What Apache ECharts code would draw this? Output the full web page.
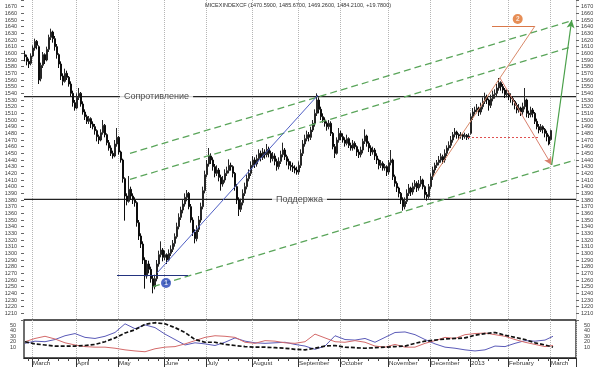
<!DOCTYPE html>
<html><head><meta charset="utf-8">
<script src="https://cdn.jsdelivr.net/npm/echarts@6/dist/echarts.min.js"></script>
<style>html,body{margin:0;padding:0;background:#fff}#c{width:600px;height:367px}</style>
</head><body><div id="c"></div>
<script>
const titleText = 'MICEXINDEXCF (1470.5900, 1485.6700, 1469.2600, 1484.2100, +19.7800)';
const slotCount = 276;
const monthStarts = [4, 26, 47, 70, 91, 114, 137, 158, 182, 203, 223, 242, 263];
const monthLabels = ['March','April','May','June','July','August','September','October','November','December','2013','February','March'];

const priceOpen = [
1598,1594,1588,1585,1596,1608,1618,1610,1562,1582,
1598,1590,1606,1624,1632,1622,1610,1598,1584,1566,
1558,1570,1564,1554,1540,1526,1518,1534,1540,1524,
1512,1505,1498,1502,1494,1490,1484,1475,1470,1481,
1492,1478,1466,1458,1450,1446,1464,1474,1452,1440,
1412,1386,1378,1396,1386,1380,1376,1346,1326,1314,
1290,1266,1284,1276,1262,1250,1262,1284,1298,1305,
1294,1298,1290,1300,1306,1315,1325,1340,1354,1365,
1374,1384,1390,1370,1350,1332,1322,1336,1350,1370,
1394,1418,1434,1446,1440,1430,1420,1425,1414,1404,
1410,1420,1424,1432,1430,1420,1400,1380,1366,1376,
1390,1400,1412,1420,1432,1440,1434,1442,1450,1444,
1452,1448,1456,1450,1442,1446,1438,1430,1438,1448,
1455,1445,1438,1432,1430,1428,1425,1422,1432,1450,
1464,1472,1478,1474,1485,1495,1510,1530,1516,1505,
1500,1495,1490,1495,1480,1460,1450,1470,1480,1475,
1470,1465,1472,1462,1458,1465,1460,1452,1448,1455,
1468,1476,1465,1458,1452,1455,1446,1440,1432,1435,
1428,1430,1422,1436,1440,1415,1405,1398,1390,1380,
1370,1378,1390,1398,1392,1400,1405,1398,1404,1410,
1400,1388,1385,1400,1415,1425,1432,1436,1440,1445,
1440,1450,1458,1462,1470,1478,1482,1478,1476,1478,
1475,1477,1474,1480,1505,1512,1515,1518,1512,1520,
1528,1535,1530,1522,1532,1538,1540,1548,1556,1550,
1545,1538,1540,1535,1532,1528,1522,1515,1518,1512,
1520,1530,1510,1508,1515,1510,1498,1490,1485,1490,
1486,1480,1475,1470.59];
const priceHigh = [
1604,1598,1592,1600,1612,1622,1620,1612,1586,1602,
1600,1610,1628,1637,1634,1626,1614,1600,1588,1570,
1577,1574,1566,1558,1544,1530,1540,1548,1542,1528,
1516,1508,1506,1504,1498,1494,1486,1478,1486,1500,
1494,1480,1470,1462,1454,1470,1488,1476,1454,1442,
1414,1390,1416,1400,1390,1384,1378,1350,1330,1318,
1294,1290,1289,1280,1266,1268,1290,1304,1318,1308,
1304,1300,1306,1312,1320,1330,1346,1360,1370,1380,
1390,1395,1392,1374,1354,1336,1342,1356,1376,1400,
1424,1440,1458,1450,1444,1434,1432,1428,1418,1416,
1426,1430,1441,1436,1432,1422,1404,1384,1382,1396,
1406,1418,1426,1438,1446,1444,1448,1456,1454,1458,
1456,1464,1460,1454,1452,1450,1442,1444,1454,1466,
1458,1448,1442,1438,1436,1432,1430,1438,1456,1470,
1478,1484,1482,1490,1500,1516,1540,1534,1520,1510,
1504,1498,1500,1498,1482,1464,1474,1488,1484,1480,
1474,1478,1474,1466,1470,1468,1462,1456,1460,1472,
1486,1478,1468,1462,1460,1458,1450,1442,1440,1438,
1434,1432,1440,1455,1442,1418,1408,1400,1392,1384,
1384,1396,1404,1400,1406,1410,1408,1410,1416,1412,
1402,1392,1404,1420,1430,1436,1440,1446,1450,1448,
1456,1462,1468,1476,1482,1488,1484,1480,1482,1480,
1481,1479,1480,1510,1518,1520,1524,1520,1526,1534,
1541,1538,1532,1538,1544,1546,1554,1563,1558,1554,
1548,1546,1544,1540,1536,1530,1526,1524,1520,1526,
1548,1532,1514,1520,1518,1512,1502,1494,1494,1492,
1488,1484,1478,1485.67];
const priceLow = [
1588,1582,1578,1582,1594,1604,1606,1554,1558,1578,
1584,1588,1602,1620,1616,1604,1592,1578,1560,1552,
1556,1560,1550,1536,1520,1514,1516,1530,1520,1508,
1500,1494,1494,1488,1486,1478,1468,1464,1468,1478,
1474,1462,1454,1446,1442,1444,1460,1448,1436,1406,
1349,1372,1376,1380,1374,1370,1340,1320,1308,1284,
1247,1262,1270,1256,1240,1246,1258,1280,1294,1288,
1290,1284,1288,1296,1302,1310,1322,1336,1350,1360,
1370,1378,1366,1346,1326,1315,1318,1332,1346,1366,
1390,1414,1430,1434,1424,1414,1416,1408,1394,1400,
1406,1416,1420,1424,1414,1394,1374,1356,1362,1372,
1386,1396,1408,1416,1428,1428,1430,1438,1438,1440,
1442,1444,1444,1436,1438,1432,1424,1426,1434,1444,
1440,1432,1426,1424,1422,1420,1418,1418,1428,1446,
1460,1468,1468,1470,1482,1490,1506,1510,1500,1496,
1490,1484,1486,1476,1456,1443,1448,1466,1470,1466,
1460,1462,1458,1454,1454,1456,1446,1443,1444,1450,
1464,1460,1452,1446,1448,1440,1434,1426,1428,1424,
1424,1416,1418,1432,1410,1400,1392,1384,1374,1364,
1366,1374,1386,1386,1388,1396,1392,1394,1400,1396,
1382,1379,1382,1396,1410,1420,1428,1432,1436,1434,
1436,1446,1454,1458,1466,1474,1472,1470,1472,1470,
1472,1470,1471,1478,1500,1508,1510,1506,1508,1516,
1524,1524,1514,1518,1528,1532,1536,1544,1544,1540,
1533,1534,1530,1526,1522,1516,1510,1511,1506,1508,
1516,1504,1503,1504,1504,1494,1486,1480,1482,1480,
1474,1468,1462,1469.26];
const priceClose = [
1595,1588,1584,1596,1608,1618,1612,1560,1582,1598,
1590,1606,1624,1632,1622,1610,1598,1584,1566,1558,
1570,1564,1554,1540,1526,1518,1534,1540,1524,1512,
1505,1498,1502,1494,1490,1484,1475,1470,1481,1492,
1478,1466,1458,1450,1446,1464,1474,1452,1440,1412,
1386,1378,1396,1386,1380,1376,1346,1326,1314,1290,
1266,1284,1276,1262,1250,1262,1284,1298,1305,1294,
1298,1290,1300,1306,1315,1325,1340,1354,1365,1374,
1384,1390,1370,1350,1332,1322,1336,1350,1370,1394,
1418,1434,1446,1440,1430,1420,1425,1414,1404,1410,
1420,1424,1432,1430,1420,1400,1380,1366,1376,1390,
1400,1412,1420,1432,1440,1434,1442,1450,1444,1452,
1448,1456,1450,1442,1446,1438,1430,1438,1448,1455,
1445,1438,1432,1430,1428,1425,1422,1432,1450,1464,
1472,1478,1474,1485,1495,1510,1530,1516,1505,1500,
1495,1490,1495,1480,1460,1450,1470,1480,1475,1470,
1465,1472,1462,1458,1465,1460,1452,1448,1455,1468,
1476,1465,1458,1452,1455,1446,1440,1432,1435,1428,
1430,1422,1436,1440,1415,1405,1398,1390,1380,1370,
1378,1390,1398,1392,1400,1405,1398,1404,1410,1400,
1388,1385,1400,1415,1425,1432,1436,1440,1445,1440,
1450,1458,1462,1470,1478,1482,1478,1476,1478,1475,
1477,1474,1476,1505,1512,1515,1518,1512,1520,1528,
1535,1530,1522,1532,1538,1540,1548,1556,1550,1545,
1538,1540,1535,1532,1528,1522,1515,1518,1512,1520,
1530,1510,1508,1515,1510,1498,1490,1485,1490,1486,
1480,1475,1464,1484.21];

// indicator panel (ADX system)
const adxIdx = [0,5,10,15,20,25,30,35,40,45,50,55,60,65,70,75,80,85,90,95,100,105,110,115,120,125,130,135,140,145,150,155,160,165,170,175,180,185,190,195,200,205,210,215,220,225,230,235,240,245,250,255,260,264];
const minusDI = [17,21,20,24,31,35,28,26,30,37,53,44,51,46,34,24,14,18,16,13,19,27,21,18,17,18,19,15,12,6,12,31,24,23,26,19,28,37,38,33,24,16,10,8,5,3,5,12,11,17,22,21,23,30];
const plusDI = [20,26,30,25,18,14,11,10,10,8,5,3,1.5,7,10,11,16,22,28,31,30,28,19,17,22,21,18,17,20,34,27,20,19,22,19,12,10,15,10,10,17,22,28,26,33,35,36,33,30,24,19,15,11,13];
const adxLine = [20,16,14,12,12,12,13,15,20,27,36,42,52,55,53,46,37,24,19,19,15,13,11,10,10,9,8,6,5,8,12,13,10,9,8,9,10,11,12,17,21,23,25,26,27,32,35,37,32,28,24,18,14,10];

// drawn annotations (bar index, price)
const resistanceLevel = 1535;
const supportLevel = 1381;
const channelUpper = [[52.5,1450],[273.5,1649]];
const channelMiddle = [[52.5,1411],[272.5,1609]];
const channelLower = [[64,1250],[275,1440]];
const blueTrend = [[66,1270.5],[146.5,1537.5]];
const blueBase = [[46,1267.5],[81.5,1267.5]];
const orangeTop = [[233.5,1641],[255,1641]];
const orangeTrend = [[204,1414.5],[255,1641]];
const redDotted = [[221.5,1474.5],[257.5,1474.5]];
const redArrow = [[237.5,1563],[263.35,1432.5]];
const greenArrow = [[263.35,1432.5],[273.35,1650]];
const levelTexts = [{name:'Сопротивление', value:[65.75,1535]}, {name:'Поддержка', value:[137.25,1381]}];
const marker1 = [70.5,1255.5];
const marker2 = [246.35,1651.5];

const categories = Array.from({length: slotCount}, (_, i) => String(i));
const monthSet = new Set(monthStarts);
const monthName = {};
monthStarts.forEach((m, k) => { monthName[m] = monthLabels[k]; });
const candleData = priceOpen.map((o, i) => [o, priceClose[i], priceLow[i], priceHigh[i]]);
const zipAdx = arr => adxIdx.map((x, i) => [x, arr[i]]);
const seg = (pts, style) => [{coord: pts[0]}, {coord: pts[1], lineStyle: style}];

const FONT = 'Liberation Sans, Arial, sans-serif';
const chart = echarts.init(document.getElementById('c'), null, {renderer: 'canvas'});
const dotted = {show: true, interval: (i) => monthSet.has(i), lineStyle: {color: '#b5b5b5', type: 'dotted', width: 1}};

chart.setOption({
  animation: false,
  backgroundColor: '#fff',
  textStyle: {fontFamily: FONT},
  title: {text: titleText, left: 205, top: 2, padding: 0, textStyle: {fontSize: 5.5, fontWeight: 'normal', color: '#333', fontFamily: FONT}},
  grid: [
    {left: 24, right: 24, top: 0, height: 320, show: false},
    {left: 24, right: 24, top: 320, height: 38, show: true, borderColor: '#222', borderWidth: 1.3, backgroundColor: 'transparent'}
  ],
  xAxis: [
    {gridIndex: 0, type: 'category', data: categories, boundaryGap: true, position: 'bottom',
     axisLine: {show: false, onZero: false}, axisTick: {show: false}, axisLabel: {show: false}, splitLine: dotted},
    {gridIndex: 0, type: 'value', min: -0.5, max: slotCount - 0.5, show: false, position: 'top',
     axisLine: {onZero: false}, splitLine: {show: false}},
    {gridIndex: 1, type: 'category', data: categories, boundaryGap: true, position: 'bottom',
     axisLine: {show: true, onZero: false, lineStyle: {color: '#222', width: 1}},
     axisTick: {show: true, interval: (i) => i % 5 === 2 && !monthSet.has(i), length: 3, lineStyle: {color: '#444'}},
     axisLabel: {show: true, interval: (i) => monthSet.has(i), formatter: (v) => monthName[Number(v)] || '',
       align: 'left', fontSize: 6.2, color: '#333', margin: 2, fontFamily: FONT},
     splitLine: dotted},
    {gridIndex: 1, type: 'category', data: categories, boundaryGap: true, position: 'bottom',
     axisLine: {show: false, onZero: false},
     axisTick: {show: true, interval: (i) => monthSet.has(i), length: 9, lineStyle: {color: '#333'}},
     axisLabel: {show: false}, splitLine: {show: false}},
    {gridIndex: 1, type: 'value', min: -0.5, max: slotCount - 0.5, show: false, position: 'top',
     axisLine: {onZero: false}, splitLine: {show: false}}
  ],
  yAxis: [
    {gridIndex: 0, type: 'value', min: 1200, max: 1680, interval: 10, position: 'left',
     axisLine: {show: false, onZero: false}, axisTick: {show: true, length: 3, lineStyle: {color: '#666'}},
     axisLabel: {fontSize: 5.5, color: '#3a3a3a', margin: 7, fontFamily: FONT, formatter: (v) => (v === 1200 || v === 1680) ? '' : String(v)},
     splitLine: {show: false}},
    {gridIndex: 0, type: 'value', min: 1200, max: 1680, interval: 10, position: 'right',
     axisLine: {show: true, onZero: false, lineStyle: {color: '#c8c8c8'}}, axisTick: {show: true, length: 3, lineStyle: {color: '#666'}},
     axisLabel: {fontSize: 5.5, color: '#3a3a3a', margin: 5, fontFamily: FONT, formatter: (v) => (v === 1200 || v === 1680) ? '' : String(v)},
     splitLine: {show: false}},
    {gridIndex: 1, type: 'value', min: -10, max: 60, interval: 10, position: 'left',
     axisLine: {show: false, onZero: false}, axisTick: {show: false},
     axisLabel: {fontSize: 5.5, color: '#3a3a3a', margin: 8, fontFamily: FONT, formatter: (v) => (v >= 10 && v <= 50) ? String(v) : ''},
     splitLine: {show: false}},
    {gridIndex: 1, type: 'value', min: -10, max: 60, interval: 10, position: 'right',
     axisLine: {show: false, onZero: false}, axisTick: {show: false},
     axisLabel: {fontSize: 5.5, color: '#3a3a3a', margin: 8, fontFamily: FONT, formatter: (v) => (v >= 10 && v <= 50) ? String(v) : ''},
     splitLine: {show: false}}
  ],
  series: [
    {type: 'candlestick', name: 'MICEX', xAxisIndex: 0, yAxisIndex: 0, data: candleData, barWidth: 1.9, silent: true, z: 3,
     itemStyle: {color: '#6a6a6a', color0: '#0d0d0d', borderColor: '#262626', borderColor0: '#0d0d0d', borderWidth: 1}},
    {type: 'line', name: 'resistance', xAxisIndex: 1, yAxisIndex: 0, silent: true, symbol: 'none', z: 2,
     data: [[-0.5, resistanceLevel], [slotCount - 0.5, resistanceLevel]],
     lineStyle: {color: '#222', width: 1.2},
     markLine: {silent: true, symbol: ['none', 'none'], label: {show: false}, animation: false,
       data: [
         seg(channelUpper, {color: '#5aa55a', width: 1.3, type: [7, 4]}),
         seg(channelMiddle, {color: '#5aa55a', width: 1.3, type: [7, 4]}),
         seg(channelLower, {color: '#5aa55a', width: 1.3, type: [7, 4]}),
         seg(blueTrend, {color: '#4f5fc4', width: 1, type: 'solid'}),
         seg(blueBase, {color: '#23337f', width: 1.2, type: 'solid'}),
         seg(orangeTop, {color: '#d9784a', width: 1, type: 'solid'}),
         seg(orangeTrend, {color: '#d98a6a', width: 1, type: 'solid'}),
         seg(redDotted, {color: '#e05050', width: 1, type: [2, 2]})
       ]}},
    {type: 'line', name: 'support', xAxisIndex: 1, yAxisIndex: 0, silent: true, symbol: 'none', z: 2,
     data: [[-0.5, supportLevel], [slotCount - 0.5, supportLevel]],
     lineStyle: {color: '#222', width: 1.2},
     markLine: {silent: true, symbol: ['none', 'arrow'], symbolSize: [6, 8], label: {show: false}, animation: false,
       data: [
         seg(redArrow, {color: '#d9806e', width: 1, type: 'solid'}),
         seg(greenArrow, {color: '#4aa04a', width: 1.2, type: 'solid'})
       ]}},
    {type: 'scatter', name: 'levels', xAxisIndex: 1, yAxisIndex: 0, silent: true, symbolSize: 1, z: 6,
     itemStyle: {color: 'rgba(0,0,0,0)'}, data: levelTexts,
     label: {show: true, position: 'inside', formatter: '{b}', backgroundColor: '#fff', padding: [1, 4], fontSize: 9, color: '#1a1a1a', fontFamily: FONT}},
    {type: 'scatter', name: 'marks', xAxisIndex: 1, yAxisIndex: 0, silent: true, symbol: 'circle', symbolSize: 10, z: 7,
     data: [
       {value: marker1, name: '1', itemStyle: {color: '#2442b8'}},
       {value: marker2, name: '2', itemStyle: {color: '#e0702a'}}
     ],
     label: {show: true, position: 'inside', formatter: '{b}', fontSize: 6.5, fontWeight: 'bold', color: '#fff', fontFamily: FONT}},
    {type: 'line', name: '-DI', xAxisIndex: 4, yAxisIndex: 2, data: zipAdx(minusDI), symbol: 'none', silent: true,
     lineStyle: {color: '#5a5ab8', width: 1}},
    {type: 'line', name: '+DI', xAxisIndex: 4, yAxisIndex: 2, data: zipAdx(plusDI), symbol: 'none', silent: true,
     lineStyle: {color: '#d46a6a', width: 1}},
    {type: 'line', name: 'ADX', xAxisIndex: 4, yAxisIndex: 2, data: zipAdx(adxLine), symbol: 'none', silent: true, z: 3,
     lineStyle: {color: '#111', width: 1.7, type: [4, 2]}}
  ]
});
</script>
</body></html>
